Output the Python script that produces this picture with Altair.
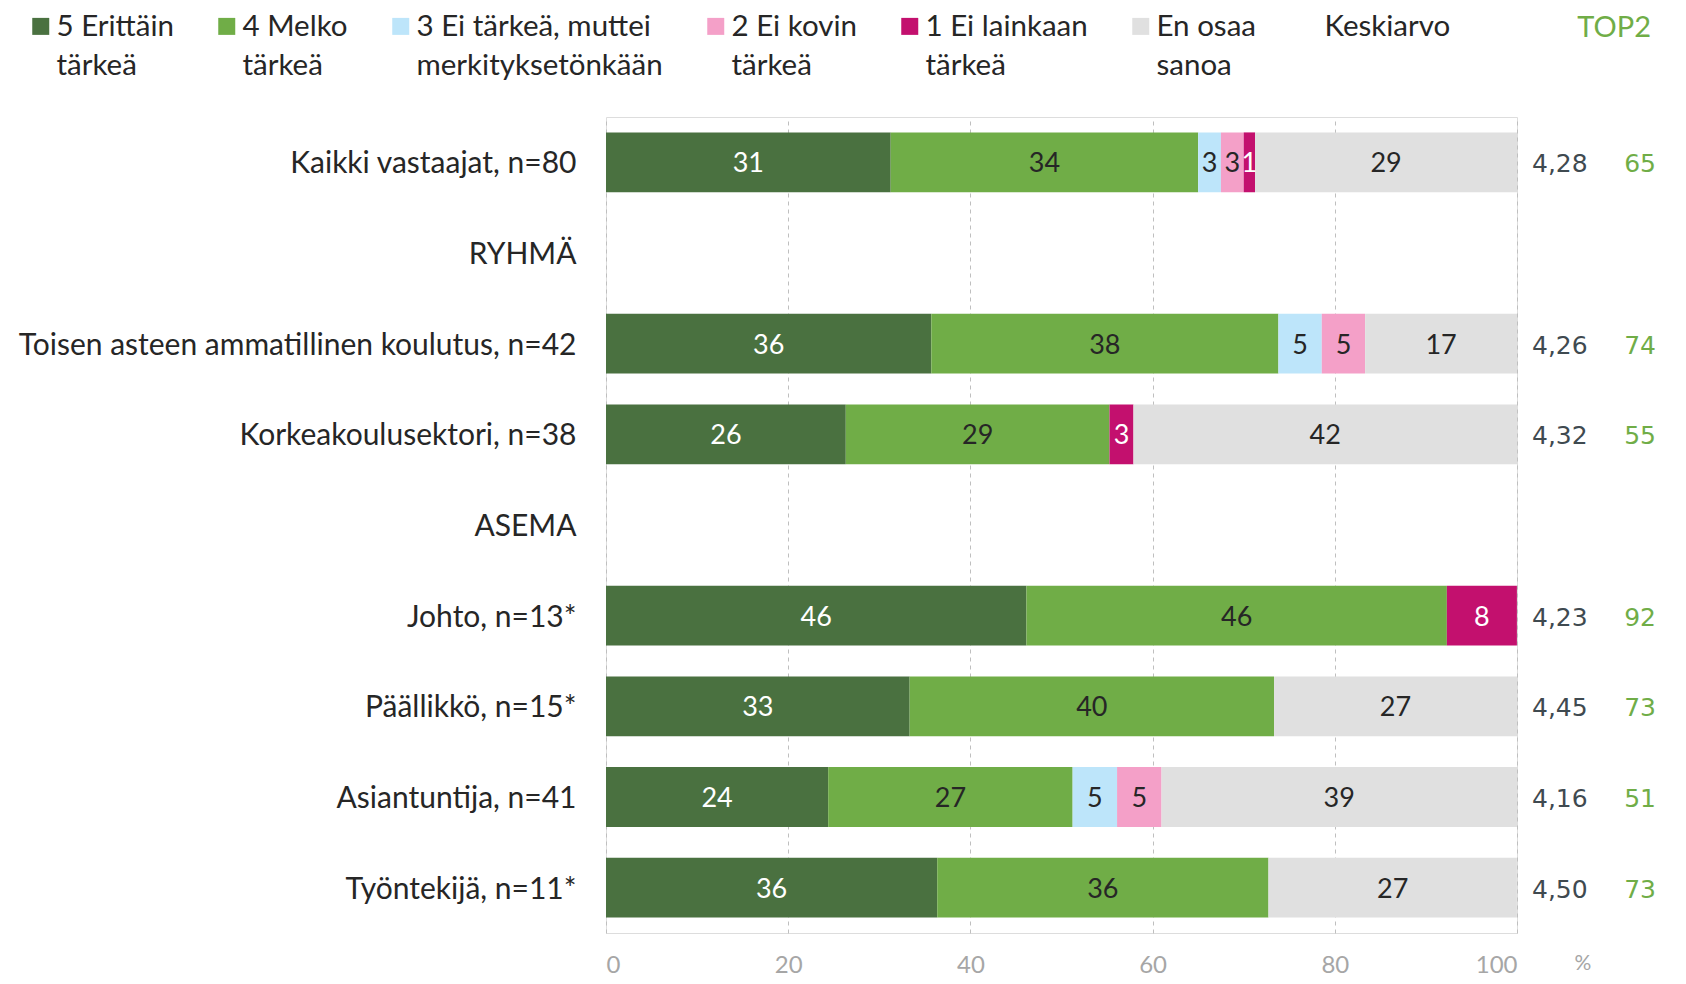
import altair as alt
import pandas as pd

rows = ["Kaikki vastaajat, n=80", "RYHMÄ", "Toisen asteen ammatillinen koulutus, n=42",
        "Korkeakoulusektori, n=38", "ASEMA", "Johto, n=13*", "Päällikkö, n=15*",
        "Asiantuntija, n=41", "Työntekijä, n=11*"]
bar_rows = ["Kaikki vastaajat, n=80", "Toisen asteen ammatillinen koulutus, n=42",
            "Korkeakoulusektori, n=38", "Johto, n=13*", "Päällikkö, n=15*",
            "Asiantuntija, n=41", "Työntekijä, n=11*"]
categories = ["5 Erittäin|tärkeä", "4 Melko|tärkeä", "3 Ei tärkeä, muttei|merkityksetönkään",
              "2 Ei kovin|tärkeä", "1 Ei lainkaan|tärkeä", "En osaa|sanoa"]
extra_legend = ["Keskiarvo| "]
colors = ["#4A7140", "#70AD47", "#BDE5FA", "#F4A0C8", "#C3106E", "#E0E0E0"]

v5 = [31.25, 35.71, 26.32, 46.15, 33.33, 24.39, 36.36]
v4 = [33.75, 38.10, 28.95, 46.15, 40.00, 26.83, 36.36]
v3 = [2.50, 4.76, 0, 0, 0, 4.88, 0]
v2 = [2.50, 4.76, 0, 0, 0, 4.88, 0]
v1 = [1.25, 0, 2.63, 7.69, 0, 0, 0]
veos = [28.75, 16.67, 42.11, 0, 26.67, 39.02, 27.27]
keskiarvo = ["4,28", "4,26", "4,32", "4,23", "4,45", "4,16", "4,50"]
top2 = [65, 74, 55, 92, 73, 51, 73]

series = [v5, v4, v3, v2, v1, veos]
recs = []
for i, r in enumerate(bar_rows):
    for j, c in enumerate(categories):
        if series[j][i] > 0:
            recs.append({"row": r, "cat": c, "order": j, "value": series[j][i]})
df = pd.DataFrame(recs)
side = pd.DataFrame({"row": bar_rows, "kesk": keskiarvo, "top2": top2})

W, H = 911, 816
FONT = "Lato"

yenc = alt.Y("row:N", sort=rows,
             scale=alt.Scale(domain=rows, paddingInner=0.34, paddingOuter=0.17),
             axis=alt.Axis(title=None, domain=False, ticks=False, grid=False, labelPadding=30,
                           labelOffset=2, labelFont=FONT, labelFontSize=30,
                           labelColor="#262626", labelLimit=700))

base = alt.Chart(df).transform_window(
    end="sum(value)", groupby=["row"], sort=[alt.SortField("order")], frame=[None, 0]
).transform_calculate(
    start="datum.end - datum.value",
    mid="datum.end - datum.value / 2",
    lbl="format(datum.value, 'd')",
    tc="(datum.order == 0 || datum.order == 4) ? '#FFFFFF' : '#262626'"
)

bars = base.mark_bar().encode(
    y=yenc,
    x=alt.X("start:Q", scale=alt.Scale(domain=[0, 100], nice=False, zero=True),
            axis=alt.Axis(values=[0, 20, 40, 60, 80, 100], title="%", grid=True,
                          gridDash=[4, 4], gridColor="#BFBFBF", gridWidth=1,
                          domain=False, ticks=False, labelFont=FONT, labelFontSize=24,
                          labelColor="#A6A6A6", labelPadding=20,
                          titleFont=FONT, titleFontSize=21, titleFontWeight="normal",
                          titleColor="#A6A6A6", titleX=968, titleY=19, titleAlign="left",
                          titleBaseline="top", titleAngle=0)),
    x2="end:Q",
    color=alt.Color("cat:N",
                    scale=alt.Scale(domain=categories + extra_legend, range=colors + ["#FFFFFF"]),
                    legend=alt.Legend(title=None, orient="none", legendX=-580, legendY=-119,
                                      direction="horizontal", columns=7, columnPadding=38,
                                      symbolType="M-1,0.56H1V2.56H-1Z", symbolSize=289,
                                      symbolStrokeWidth=0, labelFont=FONT, labelFontSize=29.5,
                                      labelColor="#262626", labelOffset=1, labelLimit=600,
                                      labelExpr="split(datum.label, '|')", labelBaseline="top",
                                      padding=0)),
    order=alt.Order("order:Q"),
)

labels = base.mark_text(font=FONT, fontSize=27, baseline="middle", align="center", dy=2).encode(
    y=alt.Y("row:N", sort=rows),
    x=alt.X("mid:Q"),
    text="lbl:N",
    color=alt.Color("tc:N", scale=None),
)

kesk = alt.Chart(side).mark_text(font="DejaVu Sans", fontSize=25, align="left",
                                 baseline="middle", color="#3F4A50", dy=2).encode(
    y=alt.Y("row:N", sort=rows), x=alt.value(W + 15), text="kesk:N")

t2 = alt.Chart(side).mark_text(font="DejaVu Sans", fontSize=25, align="right",
                               baseline="middle", color="#70AD47", dy=2).encode(
    y=alt.Y("row:N", sort=rows), x=alt.value(W + 139), text="top2:N")

header = alt.Chart(pd.DataFrame({"t": ["TOP2"]})).mark_text(
    font=FONT, fontSize=29, align="right", baseline="middle", color="#70AD47").encode(
    x=alt.value(W + 134), y=alt.value(-89), text="t:N")

chart = alt.layer(bars, labels, kesk, t2, header).properties(
    width=W, height=H,
    autosize=alt.AutoSizeParams(type="none"),
    padding={"left": 598, "top": 109, "right": 160, "bottom": 43},
).configure_view(stroke=None).configure(style={"guide-label": {"lineHeight": 39}})

chart.save("out.html", embed_options={"renderer": "svg", "actions": False})
